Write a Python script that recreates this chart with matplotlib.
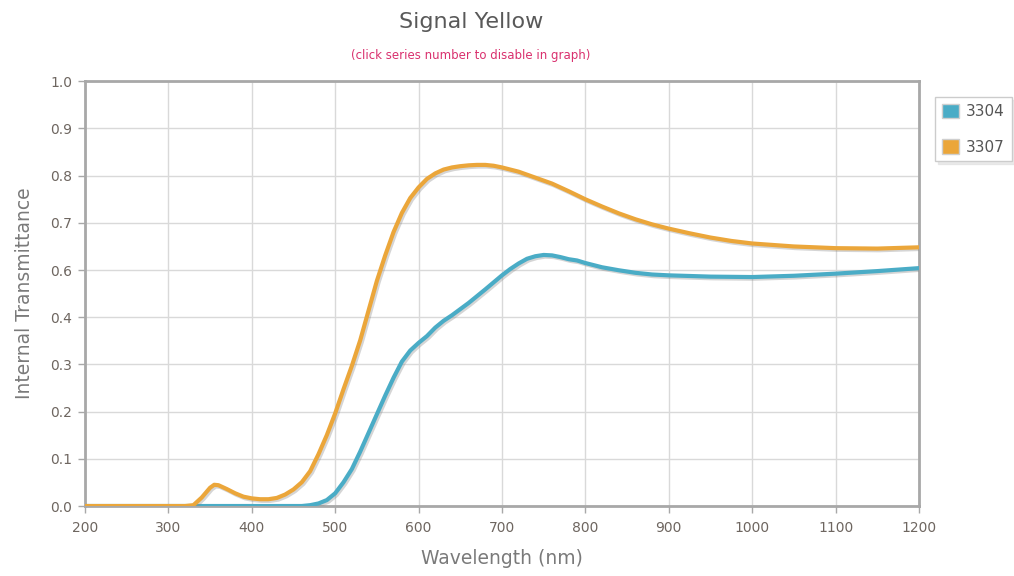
import numpy as np
import matplotlib
matplotlib.use('Agg')
import matplotlib.pyplot as plt
import matplotlib.patheffects as pe
from matplotlib.patches import Patch

# wavelength (nm) and internal transmittance
wl_3307 = [200, 320, 330, 340, 350, 355, 360, 370, 380, 390, 400, 410, 420, 430,
           440, 450, 460, 470, 480, 490, 500, 510, 520, 530, 540, 550, 560, 570,
           580, 590, 600, 610, 620, 630, 640, 650, 660, 670, 680, 690, 700, 720,
           740, 760, 780, 800, 820, 840, 860, 880, 900, 925, 950, 975, 1000, 1050,
           1100, 1150, 1200]
t_3307 = [0, 0, 0.002, 0.02, 0.043, 0.05, 0.049, 0.04, 0.03, 0.022, 0.018, 0.016,
          0.016, 0.019, 0.027, 0.039, 0.056, 0.082, 0.122, 0.167, 0.218, 0.275,
          0.33, 0.39, 0.46, 0.53, 0.59, 0.645, 0.69, 0.725, 0.75, 0.77, 0.783,
          0.792, 0.797, 0.8, 0.802, 0.803, 0.803, 0.801, 0.797, 0.787, 0.773,
          0.759, 0.741, 0.722, 0.705, 0.689, 0.675, 0.663, 0.653, 0.642, 0.632,
          0.624, 0.618, 0.611, 0.607, 0.606, 0.609]

wl_3304 = [200, 460, 470, 480, 490, 500, 510, 520, 530, 540, 550, 560, 570, 580,
           590, 600, 610, 620, 630, 640, 660, 680, 700, 710, 720, 730, 740, 750,
           760, 770, 780, 790, 800, 820, 840, 860, 880, 900, 950, 1000, 1050,
           1100, 1150, 1200]
t_3304 = [0, 0, 0.002, 0.006, 0.014, 0.03, 0.056, 0.087, 0.128, 0.172, 0.216,
          0.26, 0.302, 0.34, 0.366, 0.384, 0.4, 0.42, 0.436, 0.449, 0.478, 0.51,
          0.543, 0.558, 0.571, 0.582, 0.588, 0.591, 0.59, 0.586, 0.581, 0.578,
          0.572, 0.562, 0.555, 0.549, 0.545, 0.543, 0.54, 0.539, 0.542, 0.547,
          0.553, 0.56]

series_names = ['3304', '3307']
colors = ['#4aacc6', '#eba63a']

x_ticks = list(range(200, 1300, 100))
# the original axis puts 10 lines at k/9 and rounds the labels (no 0.5)
y_ticks = [k / 9 for k in range(10)]

fig = plt.figure(figsize=(10.14, 5.76), dpi=100)
ax = fig.add_axes([0.0838, 0.1215, 0.8225, 0.7375])

shadow = [pe.SimpleLineShadow(offset=(1.2, -1.2), shadow_color='#888888', alpha=0.35),
          pe.Normal()]
ax.plot(wl_3304, t_3304, color=colors[0], lw=3, solid_capstyle='round',
        path_effects=shadow, zorder=3)
ax.plot(wl_3307, t_3307, color=colors[1], lw=3, solid_capstyle='round',
        path_effects=shadow, zorder=4)

ax.set_xlim(200, 1200)
ax.set_ylim(0, 1)
ax.set_xticks(x_ticks)
ax.set_yticks(y_ticks)
ax.set_yticklabels(['%.1f' % v for v in y_ticks])
ax.grid(True, color='#d9d9d9', lw=1)
ax.set_axisbelow(True)

for s in ax.spines.values():
    s.set_color('#a8a8a8')
    s.set_linewidth(2)
ax.tick_params(axis='both', colors='#a8a8a8', length=5, width=1,
               labelcolor='#6e6660', labelsize=10)
ax.tick_params(axis='y', pad=4)
ax.tick_params(axis='x', pad=6)

ax.set_xlabel('Wavelength (nm)', fontsize=13.5, color='#7a7a7a', labelpad=10)
ax.set_ylabel('Internal Transmittance', fontsize=13.5, color='#7a7a7a', labelpad=12)

fig.text(0.4645, 0.962, 'Signal Yellow', ha='center', va='center',
         fontsize=16, color='#595959')
fig.text(0.4645, 0.903, '(click series number to disable in graph)', ha='center',
         va='center', fontsize=8.5, color='#d9306e')

handles = [Patch(facecolor=c, edgecolor='#cfcfcf', lw=1) for c in colors]
leg = fig.legend(handles, series_names, loc='upper left',
                 bbox_to_anchor=(0.922, 0.832), frameon=True, fancybox=False,
                 edgecolor='#cccccc', fontsize=11, handlelength=1.1,
                 handleheight=1.1, labelspacing=1.3, handletextpad=0.5,
                 borderpad=0.45, borderaxespad=0,
                 shadow={'color': '#dddddd', 'alpha': 0.6})
for t in leg.get_texts():
    t.set_color('#555555')

fig.savefig('out.png', dpi=100)
